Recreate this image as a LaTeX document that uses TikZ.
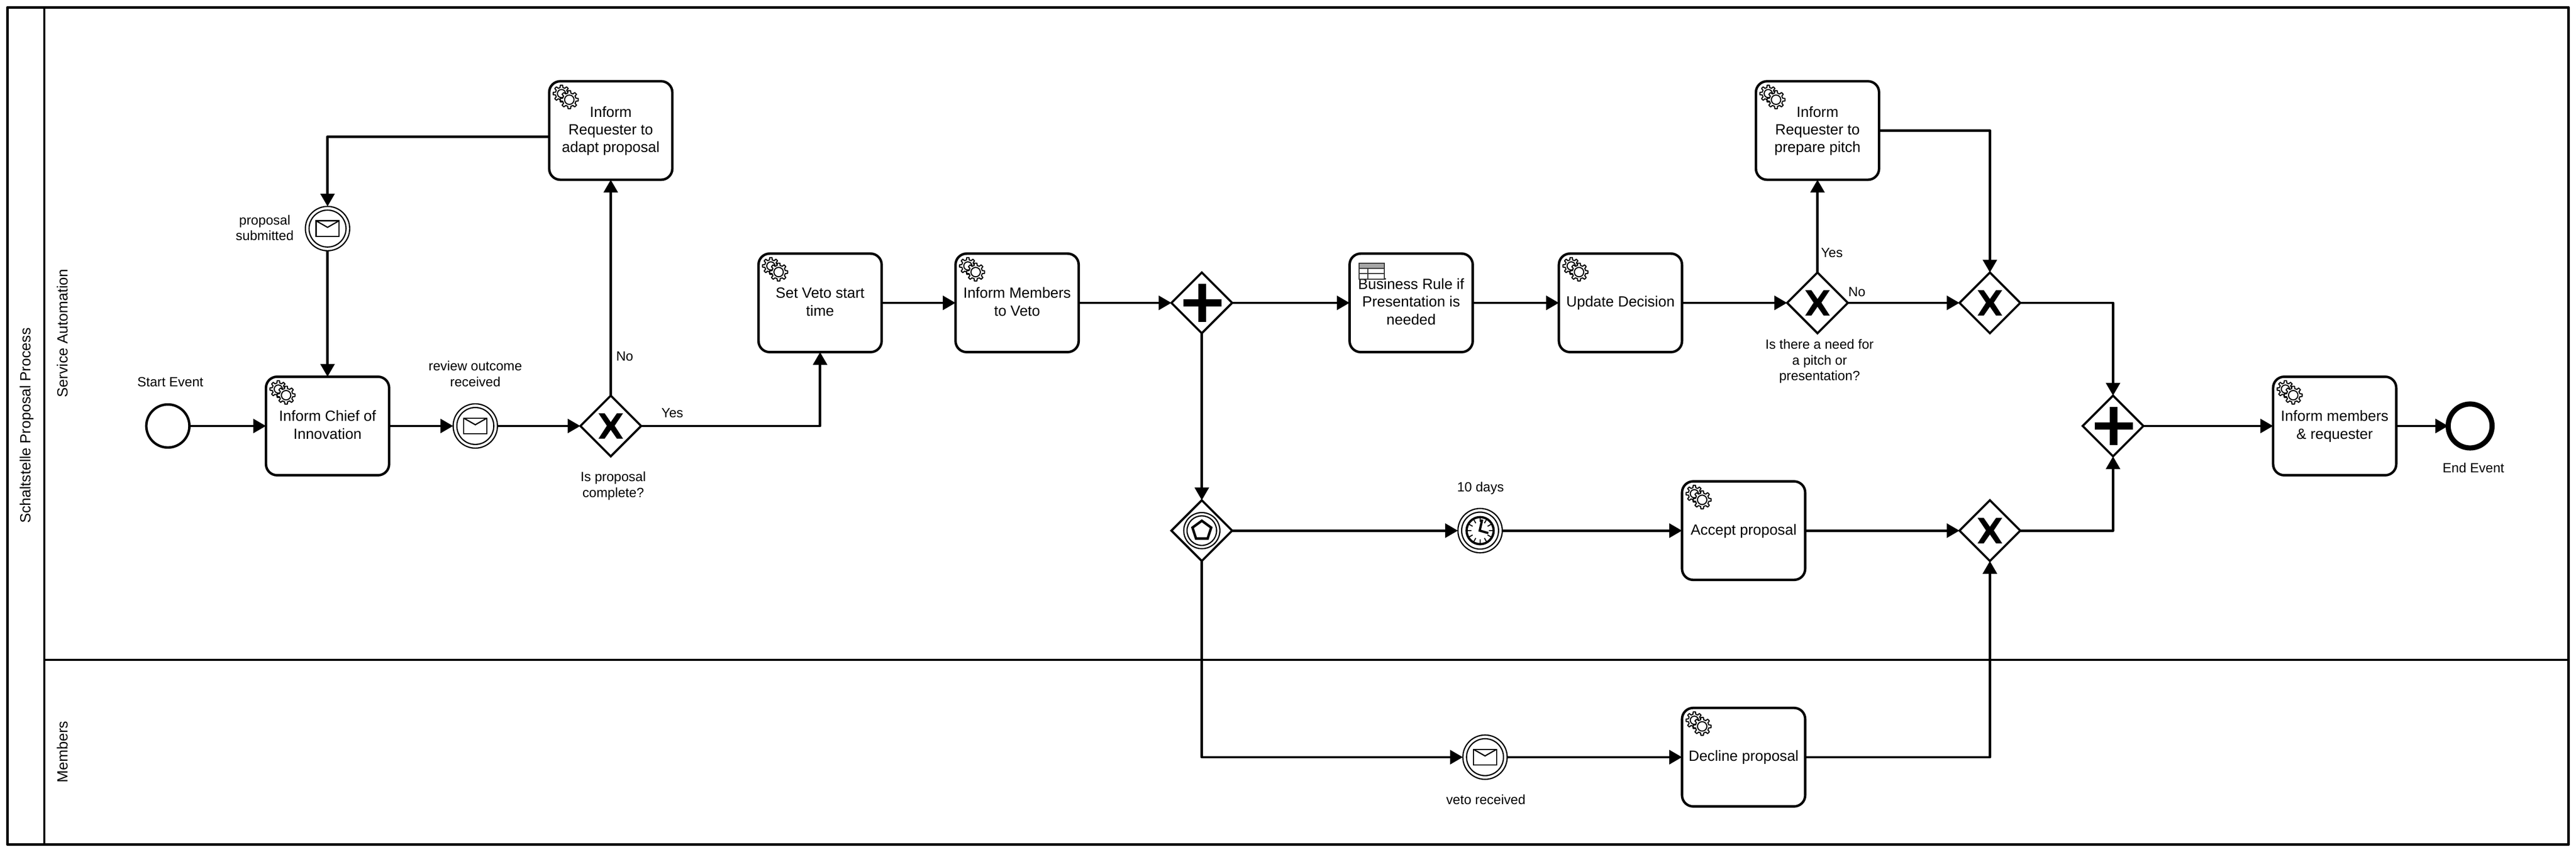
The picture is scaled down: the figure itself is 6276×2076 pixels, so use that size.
\documentclass[tikz,border=0pt]{standalone}
\usepackage{fontspec}
\setmainfont{Liberation Sans}
\usetikzlibrary{arrows.meta,shapes.geometric}
\newcommand{\bigfont}{\fontsize{36}{43}\selectfont}
\newcommand{\smallfont}{\fontsize{32.5}{38.4}\selectfont}
\newcommand{\ts}{\rule[-11.5pt]{0pt}{43pt}}
\tikzset{
  x=1pt,y=-1pt,
  stroke/.style={line width=6pt,draw=black,line join=round},
  fineline/.style={line width=3pt,draw=black,line join=round},
  flow/.style={stroke,-{Triangle[length=31pt,width=34pt]}},
  taskbox/.style={stroke,fill=white,rectangle,rounded corners=27pt,minimum width=300pt,minimum height=240pt,inner sep=0pt,outer sep=0pt,align=center,font=\bigfont},
  gate/.style={stroke,line width=5.2pt,line join=miter,fill=white,diamond,minimum width=148pt,minimum height=148pt,inner sep=0pt,outer sep=0pt},
  plainevent/.style={stroke,fill=white,circle,minimum size=105pt,inner sep=0pt,outer sep=0pt},
  endevent/.style={plainevent,line width=12.5pt,minimum size=107pt},
  ringevent/.style={fineline,fill=white,circle,minimum size=108pt,inner sep=0pt,outer sep=0pt},
  lbl/.style={inner sep=0pt,outer sep=0pt,align=center,font=\smallfont},
  lanelbl/.style={inner sep=0pt,outer sep=0pt,rotate=90,anchor=base,font=\bigfont},
  gears/.pic={
    \begin{scope}[shift={(30,30)}]
      \draw[line width=2.7pt,fill=white,line join=round] (-13:15) \foreach \a in {0,45,...,315} { -- (\a-13:15) -- (\a-8:20.5) -- (\a+8:20.5) -- (\a+13:15) } -- cycle;
      \draw[line width=2.7pt] (0,0) circle[radius=10pt];
    \end{scope}
    \begin{scope}[shift={(49,45)}]
      \draw[line width=2.7pt,fill=white,line join=round] (-13:16.5) \foreach \a in {0,45,...,315} { -- (\a-13:16.5) -- (\a-8:22) -- (\a+8:22) -- (\a+13:16.5) } -- cycle;
      \draw[line width=2.7pt] (0,0) circle[radius=11.5pt];
    \end{scope}
  },
  xmark/.pic={
    \fill[black] (-30,-31) -- (-15,-31) -- (0,-9.5) -- (15,-31) -- (30,-31) -- (9.5,-0.5) -- (30,31) -- (15,31) -- (0,9.5) -- (-15,31) -- (-30,31) -- (-9.5,-0.5) -- cycle;
  },
  plusmark/.pic={
    \fill[black] (-8,-46) rectangle (11,47);
    \fill[black] (-45,-9) rectangle (48,9);
  },
  envelope/.pic={
    \draw[line width=3pt,line join=miter] (-28,-19) rectangle (28,19);
    \draw[line width=3pt,line join=miter] (-28,-19) -- (0,-3) -- (28,-19);
  },
  clock/.pic={
    \draw[line width=5.5pt] (0,0) circle[radius=33pt];
    \foreach \a in {0,30,...,330} { \draw[line width=2.5pt] (\a:21) -- (\a:31); }
    \draw[line width=5.5pt,line cap=butt,line join=miter] (5,-27) -- (-1,0) -- (20,6);
  },
  pentagon/.pic={
    \draw[line width=3pt] (0,0) circle[radius=44pt];
    \draw[line width=3pt] (0,0) circle[radius=36pt];
    \draw[line width=6pt,line join=miter] (-90:24) -- (-18:24) -- (54:24) -- (126:24) -- (198:24) -- cycle;
  },
  ruletable/.pic={
    \fill[black!35] (23,24) rectangle (85,36);
    \draw[line width=2.5pt,draw=black!80] (23,24) rectangle (85,62);
    \draw[line width=2.5pt,draw=black!80] (23,36) -- (85,36) (23,49) -- (85,49) (45,36) -- (45,62);
  }
}
\begin{document}
\begin{tikzpicture}
\useasboundingbox (0,0) rectangle (6276,2076);
\fill[white] (0,0) rectangle (6276,2076);
% pool and lanes
\draw[stroke] (18,18) rectangle (6258,2058);
\draw[stroke] (108,18) -- (108,2058);
\draw[stroke] (108,1608) -- (6258,1608);
\node[lanelbl] (pooltitle) at (75,1037) {Schaltstelle Proposal Process};
\node[lanelbl] (lanea) at (165,812) {Service Automation};
\node[lanelbl] (laneb) at (165,1832) {Members};
% events
\node[plainevent] (start) at (409,1038) {};
\node[endevent] (end) at (6018,1038) {};
\node[ringevent] (review) at (1158,1038) {};
\node[ringevent] (prop) at (798,557) {};
\node[ringevent] (timer) at (3606,1293) {};
\node[ringevent] (veto) at (3618,1845) {};
\foreach \n in {review,prop,timer,veto} { \draw[fineline] (\n) circle[radius=45pt]; }
\pic at (review) {envelope};
\pic at (prop) {envelope};
\pic at (veto) {envelope};
\pic at (timer) {clock};
% tasks
\node[taskbox] (chief) at (798,1038) {\ts Inform Chief of\\Innovation\ts};
\node[taskbox] (adapt) at (1488,318) {\ts Inform\\Requester to\\adapt proposal\ts};
\node[taskbox] (setveto) at (1998,738) {\ts Set Veto start\\time\ts};
\node[taskbox] (infveto) at (2478,738) {\ts Inform Members\\to Veto\ts};
\node[taskbox] (rule) at (3438,738) {\ts Business Rule if\\Presentation is\\needed\ts};
\node[taskbox] (update) at (3948,738) {\ts Update Decision\ts};
\node[taskbox] (pitch) at (4428,318) {\ts Inform\\Requester to\\prepare pitch\ts};
\node[taskbox] (accept) at (4248,1293) {\ts Accept proposal\ts};
\node[taskbox] (decline) at (4248,1845) {\ts Decline proposal\ts};
\node[taskbox] (infall) at (5688,1038) {\ts Inform members\\\& requester\ts};
\foreach \n in {chief,adapt,setveto,infveto,update,pitch,accept,decline,infall} { \pic at (\n.north west) {gears}; }
\pic at (rule.north west) {ruletable};
% gateways
\node[gate] (gwa) at (1488,1038) {};
\node[gate] (para) at (2928,738) {};
\node[gate] (evgw) at (2928,1293) {};
\node[gate] (gwb) at (4428,738) {};
\node[gate] (gwc) at (4848,738) {};
\node[gate] (gwd) at (4848,1293) {};
\node[gate] (parb) at (5148,1038) {};
\pic at (gwa) {xmark};
\pic at (gwb) {xmark};
\pic at (gwc) {xmark};
\pic at (gwd) {xmark};
\pic at (para) {plusmark};
\pic at (parb) {plusmark};
\pic at (evgw) {pentagon};
% connectors
\draw[flow] (start) -- (chief);
\draw[flow] (chief) -- (review);
\draw[flow] (review) -- (gwa);
\draw[flow] (gwa.north) -- (adapt.south);
\draw[flow] (gwa.east) -| (setveto.south);
\draw[flow] ([yshift=-15pt]adapt.west) -| (prop.north);
\draw[flow] (prop) -- (chief);
\draw[flow] (setveto) -- (infveto);
\draw[flow] (infveto) -- (para);
\draw[flow] (para) -- (rule);
\draw[flow] (para.south) -- (evgw.north);
\draw[flow] (rule) -- (update);
\draw[flow] (update) -- (gwb);
\draw[flow] (gwb.north) -- (pitch.south);
\draw[flow] (gwb.east) -- (gwc.west);
\draw[flow] (pitch.east) -| (gwc.north);
\draw[flow] (gwc.east) -| (parb.north);
\draw[flow] (evgw.east) -- (timer.west);
\draw[flow] (timer.east) -- (accept.west);
\draw[flow] (accept.east) -- (gwd.west);
\draw[flow] (gwd.east) -| (parb.south);
\draw[flow] (evgw.south) |- (veto.west);
\draw[flow] (veto.east) -- (decline.west);
\draw[flow] (decline.east) -| (gwd.south);
\draw[flow] (parb.east) -- (infall.west);
\draw[flow] (infall.east) -- (end.west);
% labels
\node[lbl] (l1) at (415,934) {\strut Start Event\strut};
\node[lbl] (l2) at (1158,915) {\strut review outcome\\received\strut};
\node[lbl] (l3) at (645,559) {\strut proposal\\submitted\strut};
\node[lbl] (l4) at (1522,872) {\strut No\strut};
\node[lbl] (l5) at (1638,1010) {\strut Yes\strut};
\node[lbl] (l6) at (1494,1185) {\strut Is proposal\\complete?\strut};
\node[lbl] (l7) at (3607,1190) {\strut 10 days\strut};
\node[lbl] (l8) at (3620,1952) {\strut veto received\strut};
\node[lbl] (l9) at (4463,619) {\strut Yes\strut};
\node[lbl] (l10) at (4524,715) {\strut No\strut};
\node[lbl] (l11) at (4433,881) {\strut Is there a need for\\a pitch or\\presentation?\strut};
\node[lbl] (l12) at (6026,1144) {\strut End Event\strut};
\end{tikzpicture}
\end{document}
